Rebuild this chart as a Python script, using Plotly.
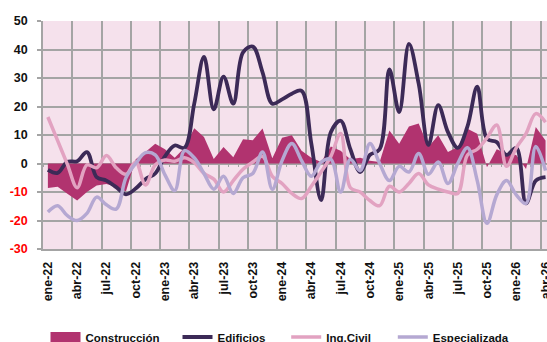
import plotly.graph_objects as go

# Monthly periods, ene-22 .. abr-26
meses = ["ene", "feb", "mar", "abr", "may", "jun", "jul", "ago", "sep", "oct", "nov", "dic"]
periodos = [f"{meses[k % 12]}-{22 + k // 12}" for k in range(52)]

# Year-on-year change (%) by segment
construccion = [
    -8.6, -8.2, -10.6, -13.0, -10.0, -7.7, -7.2, -8.2, -9.8, 1.5, 4.0, 6.9,
    5.0, 2.0, 5.5, 12.4, 9.3, 1.6, 5.8, 2.2, 8.5, 8.2, 12.3, 1.8,
    9.0, 9.9, 4.5, 2.0, 0.5, 6.0, 4.5, 1.5, 2.0, 1.0, 0.5, 11.6,
    6.9, 13.0, 14.0, 5.8, 9.9, 4.0, 5.8, 12.2, 10.4, -1.3, 5.0, 3.5,
    3.0, -1.9, 12.8, 8.1,
]
edificios = [
    -2.2, -3.3, 0.6, 0.8, 4.0, -4.8, -6.0, -8.3, -10.8, -8.8, -5.5, -3.5,
    2.5, 6.3, 5.5, 21.0, 37.4, 19.0, 30.5, 21.0, 39.0, 41.0, 32.0, 21.0,
    22.5, 24.5, 25.5, 7.0, -12.8, 11.0, 15.0, 5.0, -3.0, 3.0, 5.0, 33.0,
    18.0, 42.0, 28.0, 6.5, 20.5, 11.0, 5.5, 13.0, 27.0, 8.7, 7.5, 3.0,
    5.5, -14.0, -6.0, -4.8,
]
ing_civil = [
    16.3, 8.0, -0.3, -8.5, -0.5, -1.5, 2.8, -1.5, -3.8, 0.5, -7.5, -0.5,
    1.2, 0.8, 2.0, 0.3, -3.5, -5.5, -10.0, -6.0, -2.0, 0.5, 2.5, -4.5,
    -7.0, -10.5, -12.3, -8.0, -3.0, 2.5, 10.5, -8.5, -10.0, -13.0, -14.8, -8.0,
    -10.0, -7.0, -3.5, -7.5, -9.0, -10.0, -10.5, 3.0, 5.0, 9.0, 13.5, -1.0,
    5.5, 10.5, 17.5, 14.5,
]
especializada = [
    -17.0, -14.8, -18.3, -20.0, -17.5, -11.8, -14.5, -16.0, -5.0, 0.0, 3.8, 3.0,
    -4.0, -9.5, 4.5, 2.0, -3.5, -9.0, -4.5, -10.5, -5.0, -3.5, 4.0, -9.0,
    1.0, 7.0, 1.0, -4.5, 0.5, 1.5, -10.0, 1.5, -2.5, 7.0, 0.0, -6.0,
    -1.0, -3.0, 3.5, -3.8, 0.5, -7.0, 0.0, 5.5, -6.0, -21.0, -11.0, -6.0,
    -11.0, -14.0, 6.0, -2.5,
]

y_ticks = [-30, -20, -10, 0, 10, 20, 30, 40, 50]

x = list(range(len(periodos)))
tick_pos = x[::3]
tick_txt = periodos[::3]
y_txt = [f"<span style='color:#FF0000'>{v}</span>" if v < 0 else str(v) for v in y_ticks]

C_CONS = "#B1336F"
C_EDIF = "#3C2A57"
C_CIVIL = "#E2A2C1"
C_ESPE = "#B5A8D2"
GRID = "#A4A4A4"
FONT = "Liberation Sans, Arial, sans-serif"
X_RANGE = [-0.5, 51.15]

fig = go.Figure()

# Construcción as a filled area to zero
fig.add_trace(go.Scatter(
    x=x, y=construccion, mode="lines", fill="tozeroy", fillcolor=C_CONS,
    line=dict(width=0, color=C_CONS), showlegend=False, hoverinfo="skip",
))

series = [
    ("Edificios", edificios, C_EDIF, 3.8, "legend2"),
    ("Ing.Civil", ing_civil, C_CIVIL, 3.5, "legend3"),
    ("Especializada", especializada, C_ESPE, 3.5, "legend4"),
]
for name, vals, color, width, leg in series:
    fig.add_trace(go.Scatter(
        x=x, y=vals, mode="lines", name=name, legend=leg,
        line=dict(color=color, width=width, shape="spline", smoothing=1.0),
    ))

# legend swatch for the area series (thick block)
fig.add_trace(go.Scatter(
    x=[None], y=[None], mode="lines", name="Construcción", legend="legend",
    line=dict(color=C_CONS, width=10), xaxis="x2", hoverinfo="skip",
))

legend_font = dict(family=FONT, size=11.5, color="#111111", weight="bold")


def legend_at(px):
    return dict(
        x=(px - 43) / 504, y=-0.386, xanchor="left", yanchor="middle",
        orientation="h", font=legend_font, bgcolor="rgba(0,0,0,0)",
        borderwidth=0, itemwidth=30,
    )


fig.update_layout(
    width=547, height=342,
    margin=dict(l=43, r=0, t=21, b=93, autoexpand=False),
    paper_bgcolor="white",
    plot_bgcolor="#F5E1EC",
    font=dict(family=FONT),
    hovermode=False,
    legend=legend_at(45.5),
    legend2=legend_at(177.5),
    legend3=legend_at(286.2),
    legend4=legend_at(392.8),
    # category axis crossing at zero, with a tick at each month boundary
    xaxis=dict(
        range=X_RANGE, anchor="free", position=0.375,
        showline=True, linecolor=GRID, linewidth=1.5, layer="below traces",
        ticks="outside", ticklen=3, tickwidth=1, tickcolor=GRID,
        tickmode="linear", tick0=-0.5, dtick=1,
        showticklabels=False, showgrid=False, zeroline=False,
    ),
    # bottom axis carrying the labels and the quarterly gridlines
    xaxis2=dict(
        range=X_RANGE, overlaying="x", anchor="y", side="bottom",
        tickmode="array", tickvals=tick_pos, ticktext=tick_txt,
        tickangle=-90, ticks="", ticklabelstandoff=6, ticklabeloverflow="allow",
        tickfont=dict(family=FONT, size=12.5, color="#111111", weight="bold"),
        showgrid=False, zeroline=False,
        minor=dict(tickmode="linear", tick0=-0.5, dtick=3, showgrid=True,
                   gridcolor=GRID, gridwidth=1.5),
        showline=True, linecolor=GRID, linewidth=1.5,
    ),
    yaxis=dict(
        range=[-30, 50], tickmode="array", tickvals=y_ticks, ticktext=y_txt,
        tickfont=dict(family=FONT, size=12.5, color="#111111", weight="bold"),
        showgrid=True, gridcolor=GRID, gridwidth=1.5,
        showline=True, linecolor=GRID, linewidth=1.5,
        ticks="outside", ticklen=4, tickcolor=GRID, tickwidth=1.5,
        ticklabelstandoff=7, zeroline=False,
    ),
)

fig.write_html("out.html")
